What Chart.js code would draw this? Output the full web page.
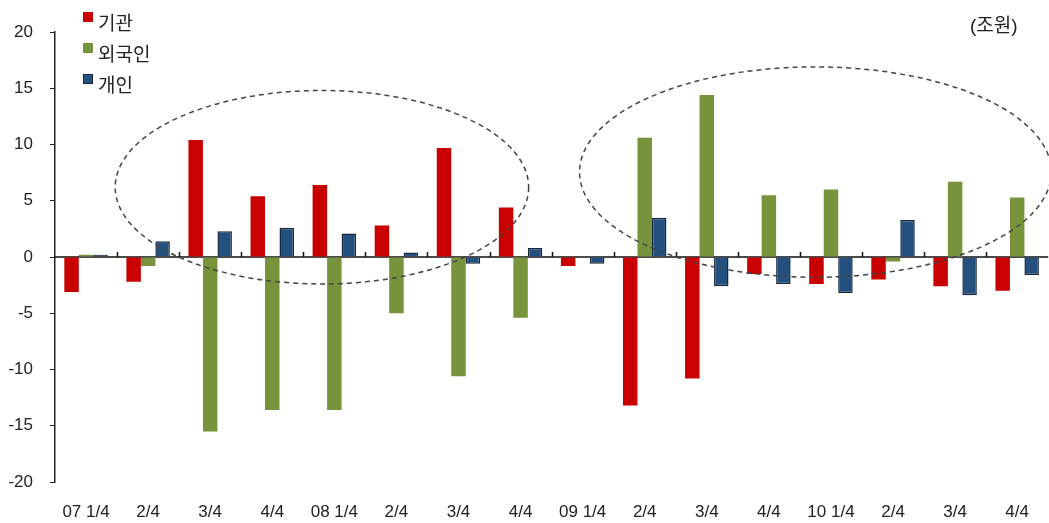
<!DOCTYPE html>
<html lang="ko">
  <head>
    <meta charset="UTF-8" />
    <script src="https://cdn.jsdelivr.net/npm/chart.js"></script>
    <title>투자주체별 순매수</title>
    <style>
      body {
        margin: 0;
        background: #fff;
        font-family: "Liberation Sans", "Noto Sans CJK KR", sans-serif;
      }
      .wrap {
        position: relative;
        width: 1049px;
        height: 523px;
      }
      .legend {
        position: absolute;
        left: 83px;
        top: 8px;
        color: #222;
        font-size: 19px;
        line-height: 31px;
      }
      .legend div {
        position: relative;
        height: 31px;
        padding-left: 15px;
      }
      .legend span {
        position: absolute;
        left: 0;
        top: 4px;
        width: 10px;
        height: 10px;
      }
      .unit {
        position: absolute;
        left: 970px;
        top: 10px;
        font-size: 19px;
        color: #222;
      }
    </style>
  </head>
  <body>
    <div class="wrap">
      <canvas id="chart" width="1049" height="523"></canvas>
      <div class="legend">
        <div><span style="background: #c90000"></span>기관</div>
        <div><span style="background: #77933c"></span>외국인</div>
        <div><span style="background: #24507f; border: 1px solid #16283d; width: 8px; height: 8px"></span>개인</div>
      </div>
      <div class="unit">(조원)</div>
    </div>
    <script>
      // 분기별 순매수 (조원)
      const quarters = ['07 1/4', '2/4', '3/4', '4/4', '08 1/4', '2/4', '3/4', '4/4',
                        '09 1/4', '2/4', '3/4', '4/4', '10 1/4', '2/4', '3/4', '4/4'];
      const institutions = [-3.1, -2.2, 10.4, 5.4, 6.4, 2.8, 9.7, 4.4, -0.8, -13.2, -10.8, -1.5, -2.4, -2.0, -2.6, -3.0];
      const foreigners = [0.2, -0.8, -15.5, -13.6, -13.6, -5.0, -10.6, -5.4, 0, 10.6, 14.4, 5.5, 6.0, -0.4, 6.7, 5.3];
      const individuals = [0.2, 1.4, 2.3, 2.6, 2.1, 0.4, -0.6, 0.8, -0.6, 3.5, -2.6, -2.4, -3.2, 3.3, -3.4, -1.6];
      const yTicks = [-20, -15, -10, -5, 0, 5, 10, 15, 20];

      const font = { family: '"Liberation Sans", "Noto Sans CJK KR", sans-serif', size: 17 };

      // zero line plus the small upward ticks between quarters
      const zeroAxis = {
        id: 'zeroAxis',
        beforeDatasetsDraw(chart) {
          const { ctx, chartArea, scales: { x, y } } = chart;
          const y0 = y.getPixelForValue(0);
          ctx.save();
          ctx.strokeStyle = '#111';
          ctx.lineWidth = 1.5;
          ctx.beginPath();
          ctx.moveTo(chartArea.left, y0);
          ctx.lineTo(chartArea.right, y0);
          for (let i = 1; i < quarters.length; i++) {
            const px = Math.round(x.getPixelForValue(i - 0.5)) + 0.5;
            ctx.moveTo(px, y0);
            ctx.lineTo(px, y0 - 5);
          }
          ctx.stroke();
          ctx.restore();
        },
      };

      // dashed ellipses around the two periods (center / radius in category & value units)
      const circles = [
        { cx: 3.8, cy: 6.2, rx: 3.33, ry: 8.6 },
        { cx: 11.75, cy: 7.55, rx: 3.8, ry: 9.35 },
      ];
      const ellipses = {
        id: 'ellipses',
        afterDatasetsDraw(chart) {
          const { ctx, scales: { x, y } } = chart;
          const step = x.getPixelForValue(1) - x.getPixelForValue(0);
          const unit = y.getPixelForValue(0) - y.getPixelForValue(1);
          ctx.save();
          ctx.strokeStyle = '#444';
          ctx.lineWidth = 1.5;
          ctx.setLineDash([5, 4]);
          circles.forEach((c) => {
            ctx.beginPath();
            ctx.ellipse(x.getPixelForValue(c.cx), y.getPixelForValue(c.cy),
              c.rx * step, c.ry * unit, 0, 0, Math.PI * 2);
            ctx.stroke();
          });
          ctx.restore();
        },
      };

      new Chart(document.getElementById('chart'), {
        type: 'bar',
        data: {
          labels: quarters,
          datasets: [
            { label: '기관', data: institutions, backgroundColor: '#c90000', borderWidth: 0 },
            { label: '외국인', data: foreigners, backgroundColor: '#77933c', borderWidth: 0 },
            { label: '개인', data: individuals, backgroundColor: '#24507f', borderColor: '#16283d', borderWidth: 1.5 },
          ],
        },
        options: {
          responsive: false,
          animation: false,
          categoryPercentage: 0.7,
          barPercentage: 1.0,
          layout: {
            padding: { top: 32, right: 0, left: 0, bottom: 0 },
          },
          plugins: {
            legend: { display: false },
            tooltip: { enabled: false },
          },
          scales: {
            x: {
              grid: { display: false, drawTicks: false },
              border: { display: false },
              ticks: {
                color: '#222',
                font,
                padding: 20,
                maxRotation: 0,
                autoSkip: false,
              },
              afterFit(scale) {
                scale.height = 41;
              },
            },
            y: {
              min: -20,
              max: 20,
              afterBuildTicks(scale) {
                scale.ticks = yTicks.map((v) => ({ value: v }));
              },
              grid: {
                drawOnChartArea: false,
                drawTicks: true,
                tickLength: 5,
                color: '#222',
              },
              border: { display: true, color: '#222', width: 1.5 },
              ticks: {
                color: '#222',
                font,
                padding: 17,
              },
              afterFit(scale) {
                scale.width = 55;
              },
            },
          },
        },
        plugins: [zeroAxis, ellipses],
      });
    </script>
  </body>
</html>
